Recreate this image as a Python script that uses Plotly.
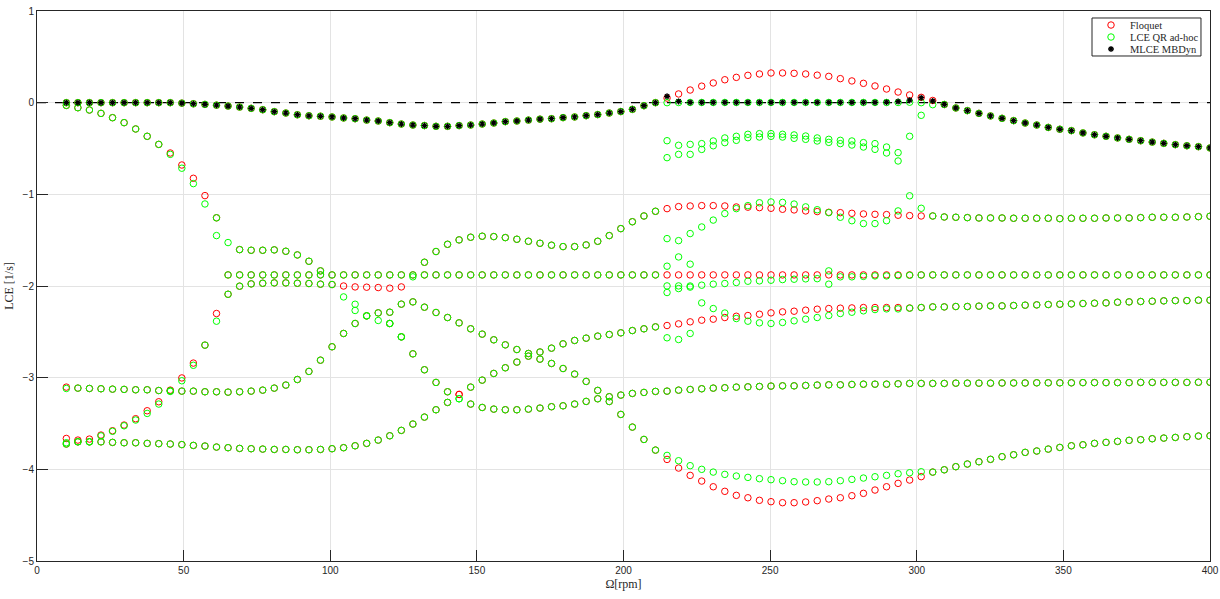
import plotly.graph_objects as go

# Omega sampling (rpm), 100 samples from 10 to 400
X = [10.0, 13.94, 17.88, 21.82, 25.76, 29.70, 33.64, 37.58, 41.52, 45.45,
     49.39, 53.33, 57.27, 61.21, 65.15, 69.09, 73.03, 76.97, 80.91, 84.85,
     88.79, 92.73, 96.67, 100.61, 104.55, 108.48, 112.42, 116.36, 120.30, 124.24,
     128.18, 132.12, 136.06, 140.00, 143.94, 147.88, 151.82, 155.76, 159.70, 163.64,
     167.58, 171.52, 175.45, 179.39, 183.33, 187.27, 191.21, 195.15, 199.09, 203.03,
     206.97, 210.91, 214.85, 218.79, 222.73, 226.67, 230.61, 234.55, 238.48, 242.42,
     246.36, 250.30, 254.24, 258.18, 262.12, 266.06, 270.00, 273.94, 277.88, 281.82,
     285.76, 289.70, 293.64, 297.58, 301.52, 305.45, 309.39, 313.33, 317.27, 321.21,
     325.15, 329.09, 333.03, 336.97, 340.91, 344.85, 348.79, 352.73, 356.67, 360.61,
     364.55, 368.48, 372.42, 376.36, 380.30, 384.24, 388.18, 392.12, 396.06, 400.0]

SERIES_NAMES = ["Floquet", "LCE QR ad-hoc", "MLCE MBDyn"]
X_TICKS = [0, 50, 100, 150, 200, 250, 300, 350, 400]
Y_TICKS = [-5, -4, -3, -2, -1, 0, 1]

# ---- top branch (shared pieces) ----
TOP_LEFT = [0, 0, 0, 0, 0, 0, 0, 0, 0, 0,
            -0.005, -0.012, -0.019, -0.027, -0.037, -0.048, -0.062, -0.077, -0.098, -0.113,
            -0.132, -0.143, -0.148, -0.156, -0.167, -0.175, -0.19, -0.20, -0.218, -0.233,
            -0.244, -0.25, -0.258, -0.258, -0.25, -0.244, -0.233, -0.222, -0.207, -0.20,
            -0.19, -0.18, -0.175, -0.163, -0.156, -0.142, -0.13, -0.113, -0.097, -0.073,
            -0.033, 0.0]                                   # k0..k51
TOP_RIGHT = [-0.02, -0.058, -0.087, -0.117, -0.145, -0.171, -0.196, -0.222, -0.244, -0.27,
             -0.29, -0.305, -0.33, -0.35, -0.367, -0.385, -0.40, -0.415, -0.43, -0.444,
             -0.458, -0.47, -0.48, -0.494]                # k76..k99
FLQ_TOP_MID = [0.05, 0.095, 0.138, 0.18, 0.215, 0.25, 0.276, 0.298, 0.313, 0.324,
               0.324, 0.32, 0.313, 0.30, 0.287, 0.262, 0.237, 0.211, 0.182, 0.149,
               0.116, 0.084, 0.058, 0.024]                 # k52..k75
LCE_TOP_MID = [0.0, 0.002, 0.002, 0.002, 0.002, 0.002, 0.002, 0.002, 0.002, 0.002,
               0.002, 0.002, 0.002, 0.002, 0.002, 0.002, 0.002, 0.002, 0.002, 0.002,
               0.002, 0.005, 0.0, -0.022]                  # k52..k75
MLCE_TOP_MID = [0.069, 0.014, 0.003, 0.003, 0.003, 0.003, 0.003, 0.003, 0.003, 0.003,
                0.003, 0.003, 0.003, 0.003, 0.003, 0.003, 0.003, 0.003, 0.003, 0.005,
                0.012, 0.027, 0.054, 0.018]                # k52..k75

# ---- branch falling from 0 ----
FLQ_FALL = [-0.03, -0.055, -0.08, -0.117, -0.164, -0.218, -0.287, -0.367, -0.455, -0.549,
            -0.68, -0.825, -1.014, -1.256, None, -1.603, -1.61, -1.61, -1.606, -1.621,
            -1.661, -1.73, -1.835]                         # k0..k22
LCE_FALL = [-0.03, -0.055, -0.08, -0.117, -0.164, -0.218, -0.287, -0.367, -0.455, -0.564,
            -0.715, -0.883, -1.105, -1.45, -1.526, -1.603, -1.61, -1.61, -1.606, -1.621,
            -1.661, -1.73, -1.835]                         # k0..k22

# ---- branch rising from -3.7 ----
FLQ_RISE = [-3.663, -3.681, -3.67, -3.626, -3.579, -3.517, -3.448, -3.361, -3.263, -3.136,
            -3.003, -2.841, -2.645, -2.30, -2.09, -2.002, -1.977, -1.97, -1.966, -1.966,
            -1.97, -1.973, -1.98, -1.984, -2.0, -2.01, -2.013, -2.017, -2.024, -2.01]  # k0..k29
LCE_RISE = [-3.71, -3.699, -3.70, -3.635, -3.585, -3.525, -3.462, -3.39, -3.288, -3.15,
            -3.034, -2.865, -2.645, -2.384, -2.09, -2.002, -1.977, -1.97, -1.966, -1.966,
            -1.97, -1.973, -1.98, -1.984, -2.119, -2.199, -2.326, -2.376, -2.409, -2.555]  # k0..k29

# ---- -3.1 plateau that rises, then descends to the lowest branch ----
PLAT_LEFT = [-3.114, -3.118, -3.121, -3.125, -3.128, -3.132, -3.132, -3.14, -3.143,
             -3.147, -3.147, -3.154, -3.154, -3.158, -3.154, -3.147, -3.136, -3.114, -3.081,
             -3.02, -2.932, -2.809, -2.663, -2.518, -2.409, -2.326, -2.293, -2.286, -2.198,
             -2.173, -2.231, -2.289, -2.344, -2.402, -2.467, -2.525, -2.587, -2.642, -2.693,
             -2.736, -2.798, -2.845, -2.9, -2.961, -3.041, -3.139, -3.26, -3.401, -3.539,
             -3.674, -3.79]                                # k1..k51
FLQ_PLAT_K0 = -3.103
LCE_PLAT_K0 = -3.118
FLQ_LOW_MID = [-3.892, -3.986, -4.066, -4.128, -4.19, -4.24, -4.284, -4.31, -4.338, -4.353,
               -4.364, -4.364, -4.356, -4.342, -4.324, -4.31, -4.288, -4.262, -4.226, -4.19,
               -4.153, -4.117, -4.08]                      # k52..k74
LCE_LOW_MID = [-3.848, -3.906, -3.96, -4.0, -4.03, -4.055, -4.073, -4.088, -4.102, -4.113,
               -4.124, -4.135, -4.138, -4.138, -4.135, -4.124, -4.11, -4.095, -4.081, -4.066,
               -4.048, -4.037, -4.026]                     # k52..k74
LOW_RIGHT = [-4.03, -4.005, -3.971, -3.942, -3.917, -3.891, -3.862, -3.841, -3.815, -3.8,
             -3.779, -3.761, -3.743, -3.732, -3.717, -3.706, -3.695, -3.684, -3.677, -3.666,
             -3.659, -3.652, -3.644, -3.637, -3.634]       # k75..k99

# ---- branch splitting at ~120 rpm and settling near -3.05 ----
SPLIT_A = [-2.409, -2.555, -2.74, -2.914, -3.052, -3.154]  # k28..k33
FLQ_SPLIT_K34 = -3.183
LCE_SPLIT_K34 = -3.23
SPLIT_B = [-3.288, -3.325, -3.343, -3.35, -3.35, -3.343, -3.332, -3.317, -3.307, -3.288,
           -3.259, -3.23, -3.208, -3.19, -3.172, -3.161, -3.15, -3.147, -3.136, -3.129,
           -3.121, -3.114, -3.11, -3.103, -3.1, -3.096, -3.092, -3.089, -3.089, -3.085,
           -3.081, -3.078, -3.078, -3.074, -3.071, -3.071, -3.071, -3.067, -3.063, -3.063,
           -3.063, -3.063, -3.06, -3.06, -3.06, -3.06, -3.058, -3.058, -3.058, -3.056,
           -3.056, -3.056, -3.056, -3.054, -3.054, -3.054, -3.054, -3.054, -3.052, -3.052,
           -3.052, -3.052, -3.052, -3.05, -3.05]            # k35..k99

# ---- bottom -3.7 plateau rising to -2.15 ----
BOT_LEFT = [-3.724, -3.70, -3.70, -3.70, -3.706, -3.71, -3.71, -3.717, -3.72, -3.724,
            -3.73, -3.739, -3.746, -3.757, -3.764, -3.772, -3.775, -3.779, -3.783, -3.783,
            -3.786, -3.786, -3.783, -3.775, -3.764, -3.743, -3.717, -3.681, -3.634, -3.575,
            -3.506, -3.43, -3.35, -3.27]                   # k0..k33
BOT_MID = [-3.103, -3.027, -2.954, -2.892, -2.83, -2.765, -2.72, -2.678, -2.631, -2.594,
           -2.569, -2.547, -2.529, -2.511, -2.486, -2.467, -2.446]  # k35..k51
FLQ_BOT_R = [-2.431, -2.413, -2.391, -2.373, -2.362, -2.344, -2.33, -2.322, -2.308, -2.293,
             -2.282, -2.275, -2.264, -2.253, -2.246, -2.242, -2.239, -2.235, -2.235, -2.235,
             -2.235, -2.24, -2.235]                        # k52..k74
LCE_BOT_R = [-2.565, -2.584, -2.518, -2.184, -2.246, -2.295, -2.355, -2.384, -2.402, -2.409,
             -2.398, -2.38, -2.362, -2.344, -2.322, -2.3, -2.286, -2.271, -2.257, -2.25,
             -2.25, -2.242, -2.235]                        # k52..k74
BOT_RIGHT = [-2.228, -2.228, -2.224, -2.224, -2.22, -2.217, -2.217, -2.213, -2.209, -2.206,
             -2.202, -2.199, -2.195, -2.191, -2.188, -2.184, -2.177, -2.173, -2.169, -2.166,
             -2.162, -2.159, -2.159, -2.155, -2.155]       # k75..k99

# ---- -1.88 level ----
LVL_LEFT = [-1.879, -1.879, -1.879, -1.879, -1.879, -1.879, -1.879, -1.879, -1.879, -1.879,
            -1.879, -1.879, -1.879, -1.879, -1.879, -1.879, -1.879, -1.879, -1.879, -1.879,
            -1.879, -1.879, -1.879, -1.879, -1.879, -1.879, -1.879, -1.879, -1.879, -1.879,
            -1.879, -1.879, -1.879, -1.879, -1.879, -1.879, -1.879, -1.879]  # k14..k51
FLQ_LVL_MID = [-1.879, -1.879, -1.879, -1.879, -1.879, -1.879, -1.879, -1.879, -1.879, -1.879,
               -1.879, -1.879, -1.879, -1.879, -1.879, -1.879, -1.879, -1.879, -1.879, -1.879,
               -1.879, -1.879, -1.879]                     # k52..k74
LCE_LVL_MID = [-1.999, -1.999, -2.0, -1.991, -1.98, -1.973, -1.962, -1.948, -1.944, -1.937,
               -1.93, -1.926, -1.922, -1.92, -1.98, -1.9, -1.9, -1.895, -1.89, -1.89,
               -1.887, -1.883, -1.88]                      # k52..k74
LVL_RIGHT = [-1.879, -1.879, -1.879, -1.879, -1.879, -1.879, -1.879, -1.879, -1.879, -1.879,
             -1.879, -1.879, -1.879, -1.879, -1.879, -1.879, -1.879, -1.879, -1.879, -1.879,
             -1.879, -1.879, -1.879, -1.879, -1.879]       # k75..k99

# ---- hump branch (-1.47 ... -1.25) ----
HUMP_LEFT = [-1.741, -1.624, -1.545, -1.497, -1.468, -1.457, -1.461, -1.472, -1.49, -1.512,
             -1.534, -1.555, -1.57, -1.57, -1.552, -1.512, -1.45, -1.374, -1.299, -1.236,
             -1.185]                                       # k31..k51
FLQ_HUMP_MID = [-1.156, -1.134, -1.127, -1.123, -1.123, -1.127, -1.138, -1.14, -1.145, -1.152,
                -1.163, -1.17, -1.181, -1.188, -1.196, -1.2, -1.207, -1.214, -1.218, -1.221,
                -1.228, -1.232, -1.236]                    # k52..k74
LCE_HUMP_MID = [-1.483, -1.505, -1.428, -1.356, -1.281, -1.21, -1.156, -1.123, -1.092, -1.083,
                -1.088, -1.106, -1.137, -1.168, -1.2, -1.25, -1.288, -1.319, -1.319, -1.288,
                -1.181, -1.016, -1.152]                    # k52..k74
HUMP_RIGHT = [-1.236, -1.247, -1.25, -1.254, -1.258, -1.258, -1.258, -1.261, -1.261, -1.261,
              -1.261, -1.265, -1.261, -1.261, -1.261, -1.258, -1.258, -1.258, -1.254, -1.25,
              -1.25, -1.25, -1.247, -1.243, -1.239]        # k75..k99

# ---- extra LCE QR points (spurious values between 215 and 300 rpm etc.) ----
LCE_SPUR1 = [-0.415, -0.465, -0.455, -0.447, -0.418, -0.385, -0.367, -0.345, -0.338, -0.338,
             -0.345, -0.352, -0.364, -0.385, -0.40, -0.411, -0.418, -0.436, -0.447, -0.484,
             -0.545, -0.367, -0.138]                       # k52..k74
LCE_SPUR2 = [-0.60, -0.564, -0.564, -0.51, -0.47, -0.436, -0.411, -0.382, -0.375, -0.367,
             -0.375, -0.389, -0.40, -0.418, -0.433, -0.447, -0.462, -0.484, -0.509, -0.549,
             -0.636]                                       # k52..k72
LCE_EXTRA_K = [13, 25, 30, 52, 53, 54, 52, 53, 54, 66]
LCE_EXTRA_Y = [-1.256, -2.267, -1.9, -1.784, -1.683, -1.762, -2.071, -2.028, -2.012, -1.835]


def collect(segments):
    xs, ys = [], []
    for start, vals in segments:
        for i, v in enumerate(vals):
            if v is not None:
                xs.append(X[start + i])
                ys.append(v)
    return xs, ys


flq = collect([
    (0, TOP_LEFT), (52, FLQ_TOP_MID), (76, TOP_RIGHT),
    (0, FLQ_FALL), (0, FLQ_RISE),
    (0, [FLQ_PLAT_K0]), (1, PLAT_LEFT), (52, FLQ_LOW_MID), (75, LOW_RIGHT),
    (28, SPLIT_A), (34, [FLQ_SPLIT_K34]), (35, SPLIT_B),
    (0, BOT_LEFT), (34, [FLQ_SPLIT_K34]), (35, BOT_MID), (52, FLQ_BOT_R), (75, BOT_RIGHT),
    (14, LVL_LEFT), (52, FLQ_LVL_MID), (75, LVL_RIGHT),
    (31, HUMP_LEFT), (52, FLQ_HUMP_MID), (75, HUMP_RIGHT),
])
lce = collect([
    (0, TOP_LEFT), (52, LCE_TOP_MID), (76, TOP_RIGHT),
    (0, LCE_FALL), (0, LCE_RISE),
    (0, [LCE_PLAT_K0]), (1, PLAT_LEFT), (52, LCE_LOW_MID), (75, LOW_RIGHT),
    (28, SPLIT_A), (34, [LCE_SPLIT_K34]), (35, SPLIT_B),
    (0, BOT_LEFT), (34, [LCE_SPLIT_K34]), (35, BOT_MID), (52, LCE_BOT_R), (75, BOT_RIGHT),
    (14, LVL_LEFT), (52, LCE_LVL_MID), (75, LVL_RIGHT),
    (31, HUMP_LEFT), (52, LCE_HUMP_MID), (75, HUMP_RIGHT),
    (52, LCE_SPUR1), (52, LCE_SPUR2),
] + [(k, [y]) for k, y in zip(LCE_EXTRA_K, LCE_EXTRA_Y)])
mlce = collect([(0, TOP_LEFT), (52, MLCE_TOP_MID), (76, TOP_RIGHT)])

RED, GREEN = "#ff0000", "#00ff00"
flq_marker = dict(symbol="circle-open", size=6.5, color=RED, line=dict(width=1, color=RED))
lce_marker = dict(symbol="circle-open", size=6.5, color=GREEN, line=dict(width=1, color=GREEN))
mlce_marker = dict(symbol="asterisk-open", size=5, color="black", line=dict(width=1.3, color="black"))

fig = go.Figure()
fig.add_trace(go.Scatter(x=[0, 400], y=[0, 0], mode="lines",
                         line=dict(color="black", width=1.2, dash="dash"),
                         showlegend=False, hoverinfo="skip"))
fig.add_trace(go.Scatter(x=flq[0], y=flq[1], mode="markers", name=SERIES_NAMES[0],
                         marker=flq_marker, showlegend=False))
fig.add_trace(go.Scatter(x=lce[0], y=lce[1], mode="markers", name=SERIES_NAMES[1],
                         marker=lce_marker, showlegend=False))
fig.add_trace(go.Scatter(x=mlce[0], y=mlce[1], mode="markers", name=SERIES_NAMES[2],
                         marker=mlce_marker, showlegend=False))

# ---- compact MATLAB-style legend box (overlay axes in plot-fraction units) ----
LEG_X0, LEG_X1, LEG_Y0, LEG_Y1 = 0.8994, 0.9923, 0.9182, 0.9873
LEG_ROWS = [0.9745, 0.9527, 0.9309]
LEG_MARK_X, LEG_TEXT_X = 0.9156, 0.9300
fig.add_shape(type="rect", xref="x2", yref="y2", x0=LEG_X0, x1=LEG_X1, y0=LEG_Y0, y1=LEG_Y1,
              line=dict(color="#262626", width=1), fillcolor="white", layer="below")
for name, mk, yy in zip(SERIES_NAMES, [flq_marker, lce_marker, mlce_marker], LEG_ROWS):
    fig.add_trace(go.Scatter(x=[LEG_MARK_X], y=[yy], xaxis="x2", yaxis="y2", mode="markers",
                             marker=mk, showlegend=False, hoverinfo="skip"))
    fig.add_annotation(x=LEG_TEXT_X, y=yy, xref="x2", yref="y2", text=name, showarrow=False,
                       xanchor="left", yanchor="middle",
                       font=dict(family="Liberation Serif", size=10.5, color="#262626"))

axis_common = dict(showgrid=True, gridcolor="#e3e3e3", gridwidth=1, zeroline=False,
                   showline=True, linecolor="#262626", linewidth=1, mirror=True,
                   ticks="inside", ticklen=11, tickcolor="#262626", automargin=False,
                   tickfont=dict(family="Liberation Sans", size=10, color="#262626"))
fig.update_layout(
    xaxis=dict(range=[0, 400], tickvals=X_TICKS, domain=[0, 1],
               title=dict(text="Ω[rpm]", standoff=4,
                          font=dict(family="Liberation Serif", size=12, color="#262626")),
               **axis_common),
    yaxis=dict(range=[-5, 1], tickvals=Y_TICKS, domain=[0, 1],
               title=dict(text="LCE [1/s]", standoff=6,
                          font=dict(family="Liberation Serif", size=12, color="#262626")),
               **axis_common),
    xaxis2=dict(overlaying="x", range=[0, 1], visible=False, anchor="y2", automargin=False),
    yaxis2=dict(overlaying="y", range=[0, 1], visible=False, anchor="x2", automargin=False),
    width=1220, height=599,
    margin=dict(l=37, r=10, t=11, b=38),
    paper_bgcolor="white", plot_bgcolor="white",
    showlegend=False,
)
fig.write_html("out.html")
